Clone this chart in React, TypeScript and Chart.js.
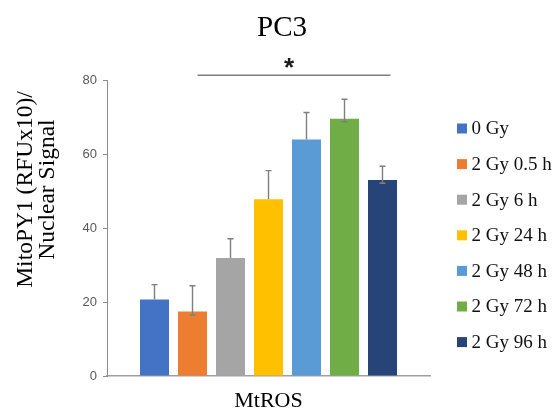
import React, { useEffect, useRef } from 'react';
import { Chart, registerables } from 'chart.js';

Chart.register(...registerables);

// ---- data ----
const categories = ['MtROS'];
const seriesLabels = ['0 Gy', '2 Gy 0.5 h', '2 Gy 6 h', '2 Gy 24 h', '2 Gy 48 h', '2 Gy 72 h', '2 Gy 96 h'];
const seriesValues = [20.7, 17.4, 31.9, 47.8, 63.9, 69.5, 53.0];
const errorUp = [4.0, 7.0, 5.2, 7.7, 7.3, 5.3, 3.7];
const errorDown = [0, 0.9, 0, 0, 0, 0.8, 0.9];
const seriesColors = ['#4472C4', '#ED7D31', '#A5A5A5', '#FFC000', '#5B9BD5', '#70AD47', '#264478'];
const yTickValues = [0, 20, 40, 60, 80];
const chartTitle = 'PC3';
const yTitleLines = ['MitoPY1 (RFUx10)/', 'Nuclear Signal'];
const xTitle = 'MtROS';
const significanceLabel = '*';
const significanceFrom = 1; // bar index
const significanceTo = 6; // bar index
const significanceLevel = 81.3;
const significanceStarLevel = 84.7;

const SERIF = '"Liberation Serif", "Times New Roman", serif';
const SANS = '"Liberation Sans", Arial, sans-serif';

const errorBarPlugin = {
  id: 'errorBars',
  afterDatasetsDraw(chart: any) {
    const ctx = chart.ctx;
    const y = chart.scales.y;
    ctx.save();
    ctx.strokeStyle = '#7f7f7f';
    ctx.lineWidth = 1.4;
    chart.data.datasets.forEach((ds: any, i: number) => {
      const meta = chart.getDatasetMeta(i);
      const el = meta.data[0];
      if (!el) return;
      const v = seriesValues[i];
      const top = y.getPixelForValue(v + errorUp[i]);
      const low = errorDown[i] > 0 ? y.getPixelForValue(v - errorDown[i]) : el.y;
      const x = el.x;
      ctx.beginPath();
      ctx.moveTo(x, low);
      ctx.lineTo(x, top);
      ctx.moveTo(x - 3, top);
      ctx.lineTo(x + 3, top);
      if (errorDown[i] > 0) {
        ctx.moveTo(x - 3, low);
        ctx.lineTo(x + 3, low);
      }
      ctx.stroke();
    });
    ctx.restore();
  },
};

const significancePlugin = {
  id: 'significance',
  afterDraw(chart: any) {
    const ctx = chart.ctx;
    const y = chart.scales.y;
    const a = chart.getDatasetMeta(significanceFrom).data[0];
    const b = chart.getDatasetMeta(significanceTo).data[0];
    if (!a || !b) return;
    const x0 = a.x + 5;
    const x1 = b.x + 8;
    const ly = y.getPixelForValue(significanceLevel);
    ctx.save();
    ctx.strokeStyle = '#7f7f7f';
    ctx.lineWidth = 1.4;
    ctx.beginPath();
    ctx.moveTo(x0, ly);
    ctx.lineTo(x1, ly);
    ctx.stroke();
    ctx.font = 'bold 26px ' + SANS;
    ctx.fillStyle = '#1a1a1a';
    ctx.textAlign = 'center';
    ctx.textBaseline = 'alphabetic';
    const m = ctx.measureText(significanceLabel);
    const sy = y.getPixelForValue(significanceStarLevel);
    const base = sy + (m.actualBoundingBoxAscent - m.actualBoundingBoxDescent) / 2;
    ctx.fillText(significanceLabel, (x0 + x1) / 2 - 5, base);
    ctx.restore();
  },
};

const yTitlePlugin = {
  id: 'yTitleLines',
  afterDraw(chart: any) {
    const ctx = chart.ctx;
    const area = chart.chartArea;
    const cy = area.top + (area.bottom - area.top) * 0.37;
    const xs = [25.5, 47.5];
    ctx.save();
    ctx.font = '23.5px ' + SERIF;
    ctx.fillStyle = '#000';
    ctx.textAlign = 'center';
    ctx.textBaseline = 'middle';
    yTitleLines.forEach((line, i) => {
      ctx.save();
      ctx.translate(xs[i], cy);
      ctx.rotate(-Math.PI / 2);
      ctx.fillText(line, 0, 0);
      ctx.restore();
    });
    ctx.restore();
  },
};

const legendPlugin = {
  id: 'sideLegend',
  afterDraw(chart: any) {
    const ctx = chart.ctx;
    const area = chart.chartArea;
    const x0 = area.right + 27;
    const y0 = 128.5;
    const step = 35.6;
    ctx.save();
    ctx.font = '19px ' + SERIF;
    ctx.textBaseline = 'middle';
    ctx.textAlign = 'left';
    chart.data.datasets.forEach((ds: any, i: number) => {
      const cy = y0 + i * step;
      ctx.fillStyle = ds.backgroundColor;
      ctx.fillRect(x0, cy - 5, 10, 10);
      ctx.fillStyle = '#111';
      ctx.fillText(ds.label, x0 + 14.5, cy + 1);
    });
    ctx.restore();
  },
};

export default function App() {
  const canvasRef = useRef<HTMLCanvasElement | null>(null);

  useEffect(() => {
    if (!canvasRef.current) return;
    const chart = new Chart(canvasRef.current, {
      type: 'bar',
      data: {
        labels: categories,
        datasets: seriesLabels.map((label, i) => ({
          label,
          data: [seriesValues[i]],
          backgroundColor: seriesColors[i],
          borderWidth: 0,
          categoryPercentage: 0.8235,
          barPercentage: 0.763,
        })),
      },
      options: {
        responsive: false,
        animation: false,
        devicePixelRatio: 1,
        layout: { padding: { left: 9, right: 0, top: 0, bottom: 0 } },
        plugins: {
          legend: { display: false },
          tooltip: { enabled: false },
          title: {
            display: true,
            text: chartTitle,
            color: '#000',
            fullSize: true,
            font: { family: SERIF, size: 29, weight: 'normal', lineHeight: 1.2 },
            padding: { top: 11.1, bottom: 34.1 },
          },
        },
        scales: {
          x: {
            type: 'category',
            grid: { display: false },
            border: { display: true, color: '#a0a0a0', width: 1.5 },
            ticks: { display: false },
            title: {
              display: true,
              text: xTitle,
              color: '#000',
              font: { family: SERIF, size: 22, lineHeight: 0.764 },
              padding: { top: 0, bottom: 0 },
            },
            afterFit: (scale: any) => {
              scale.height = 34;
            },
          },
          y: {
            type: 'linear',
            position: 'left',
            min: 0,
            max: 80,
            afterBuildTicks: (scale: any) => {
              scale.ticks = yTickValues.map((v) => ({ value: v }));
            },
            grid: { display: true, drawOnChartArea: false, drawTicks: true, tickLength: 4, color: '#8c8c8c' },
            border: { display: true, color: '#8c8c8c', width: 1 },
            ticks: { color: '#595959', padding: 6, font: { family: SANS, size: 13 } },
            afterFit: (scale: any) => {
              scale.width = 98;
            },
          },
          yRight: {
            type: 'linear',
            position: 'right',
            display: true,
            grid: { display: false },
            border: { display: false },
            ticks: { display: false },
            afterFit: (scale: any) => {
              scale.width = 125;
            },
          },
        },
      },
      plugins: [errorBarPlugin, significancePlugin, yTitlePlugin, legendPlugin],
    } as any);
    return () => chart.destroy();
  }, []);

  return (
    <div style={{ position: 'fixed', left: 0, top: 0, width: 555, height: 410, background: '#fff' }}>
      <canvas ref={canvasRef} width={555} height={410} style={{ width: 555, height: 410, display: 'block' }} />
    </div>
  );
}
